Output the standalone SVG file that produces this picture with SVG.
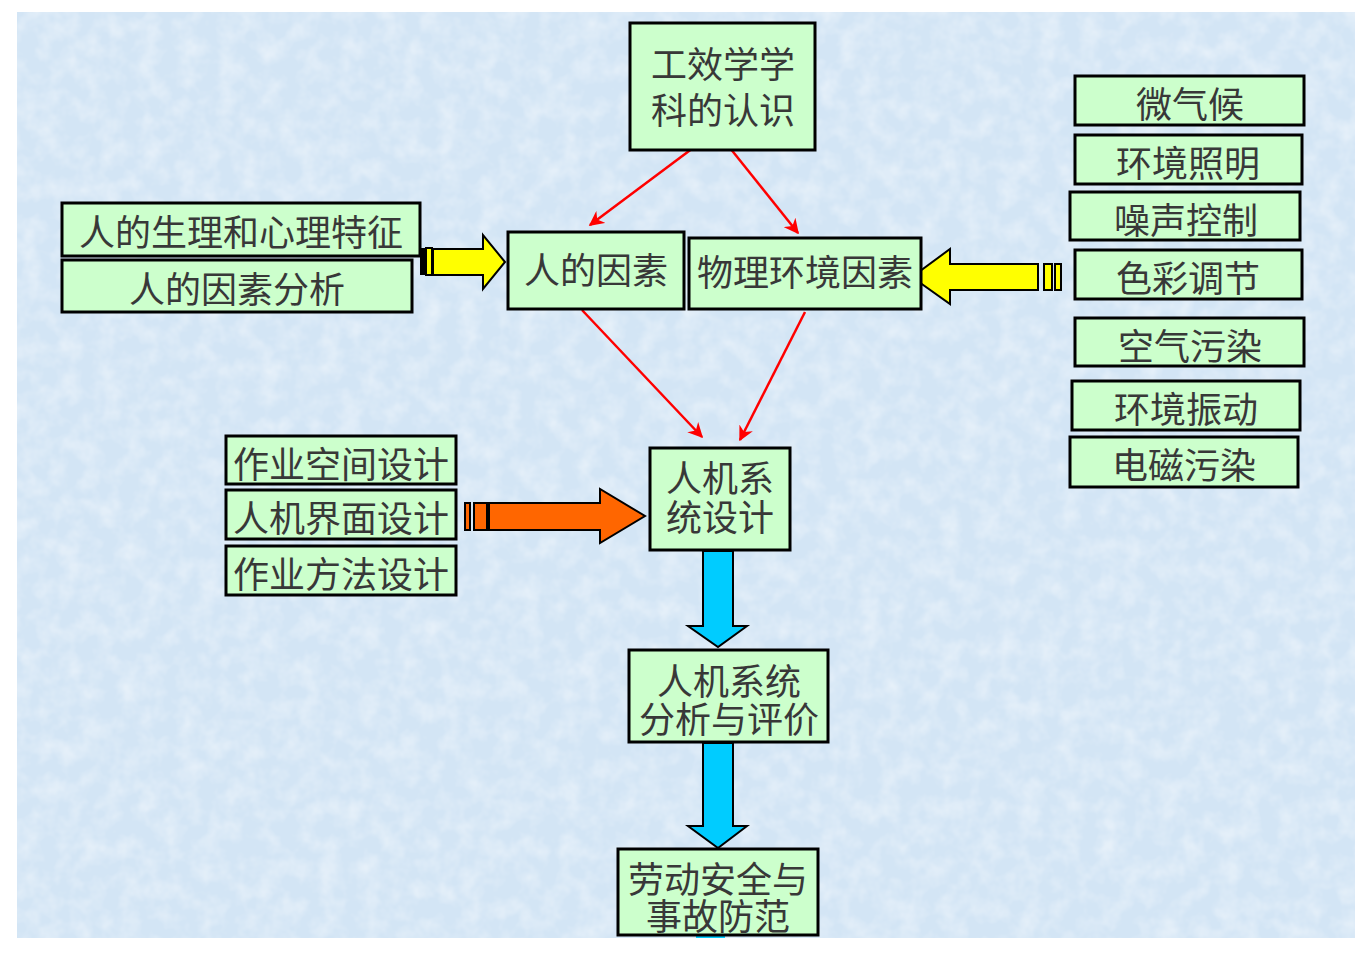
<svg xmlns="http://www.w3.org/2000/svg" width="1366" height="954" viewBox="0 0 1366 954">
<style>
.box{fill:#ccffcc;stroke:#000;stroke-width:3}
.t{font-family:"Noto Sans CJK SC","Noto Sans CJK JP",sans-serif;font-size:36px;fill:#383838;text-anchor:middle;dominant-baseline:central}
.red{stroke:#ff0000;stroke-width:2.5;fill:none;marker-end:url(#rh)}
.ya{fill:#ffff00;stroke:#000;stroke-width:2}
.oa{fill:#ff6600;stroke:#000;stroke-width:2}
.ca{fill:#00ccff;stroke:#000;stroke-width:2}
</style>
<defs>
<marker id="rh" viewBox="0 0 10 10" refX="9" refY="5" markerWidth="6" markerHeight="6" orient="auto" markerUnits="strokeWidth">
<path d="M0,0 L10,5 L0,10 L3,5 Z" fill="#ff0000"/>
</marker>
<filter id="tex" x="0" y="0" width="100%" height="100%">
<feTurbulence type="fractalNoise" baseFrequency="0.05" numOctaves="3" seed="4"/>
<feColorMatrix type="matrix" values="0 0 0 0 1  0 0 0 0 1  0 0 0 0 1  0 0 0 0.8 -0.3"/>
</filter>
</defs>
<rect width="1366" height="954" fill="#ffffff"/>
<rect x="17" y="12" width="1338" height="926" fill="#d3e5f5"/>
<rect x="17" y="12" width="1338" height="926" filter="url(#tex)"/>

<g id="connectors">
<line class="red" x1="693" y1="148" x2="590" y2="225"/>
<line class="red" x1="730" y1="148" x2="798" y2="233"/>
<line class="red" x1="582" y1="310" x2="702" y2="437"/>
<line class="red" x1="805" y1="312" x2="740" y2="440"/>
<rect x="420" y="248" width="5" height="27" fill="#000"/>
<rect x="426" y="248" width="6" height="27" class="ya"/>
<polygon class="ya" points="433,249 483,249 483,235 505,262 483,289 483,275 433,275"/>
<rect x="1044" y="264" width="8" height="26" class="ya"/>
<rect x="1055" y="264" width="6" height="26" class="ya"/>
<polygon class="ya" points="1038,264 950,264 950,249 912,277 950,304 950,290 1038,290"/>
<rect x="465" y="503" width="5" height="27" class="oa"/>
<rect x="474" y="503" width="13" height="27" class="oa"/>
<polygon class="oa" points="489,503 600,503 600,489 645,516 600,543 600,530 489,530"/>
<polygon class="ca" points="703,551 733,551 733,626 747,626 718,647 688,626 703,626"/>
<polygon class="ca" points="703,743 733,743 733,826 747,826 718,848 688,826 703,826"/>
<rect x="696" y="935" width="29" height="3" fill="#00ccff"/>
</g>

<g id="n-top"><rect class="box" x="630" y="23" width="185" height="127"/>
<text class="t"><tspan x="723" y="62">工效学学</tspan><tspan x="723" y="108">科的认识</tspan></text></g>

<g id="n-sl"><rect class="box" x="62" y="203" width="358" height="53"/><text class="t" x="241" y="230">人的生理和心理特征</text></g>
<g id="n-rf"><rect class="box" x="62" y="260" width="350" height="52"/><text class="t" x="237" y="287">人的因素分析</text></g>

<g id="n-hf"><rect class="box" x="508" y="232" width="176" height="77"/><text class="t" x="596" y="268">人的因素</text></g>
<g id="n-pe"><rect class="box" x="689" y="238" width="232" height="71"/><text class="t" x="805" y="270">物理环境因素</text></g>

<g id="n-r1"><rect class="box" x="1075" y="76" width="229" height="49"/><text class="t" x="1190" y="102">微气候</text></g>
<g id="n-r2"><rect class="box" x="1075" y="135" width="227" height="49"/><text class="t" x="1188" y="161">环境照明</text></g>
<g id="n-r3"><rect class="box" x="1070" y="192" width="230" height="48"/><text class="t" x="1186" y="218">噪声控制</text></g>
<g id="n-r4"><rect class="box" x="1075" y="250" width="227" height="49"/><text class="t" x="1188" y="276">色彩调节</text></g>
<g id="n-r5"><rect class="box" x="1075" y="318" width="229" height="48"/><text class="t" x="1190" y="344">空气污染</text></g>
<g id="n-r6"><rect class="box" x="1072" y="381" width="228" height="49"/><text class="t" x="1186" y="407">环境振动</text></g>
<g id="n-r7"><rect class="box" x="1070" y="437" width="228" height="50"/><text class="t" x="1184" y="463">电磁污染</text></g>

<g id="n-l1"><rect class="box" x="226" y="436" width="230" height="48"/><text class="t" x="341" y="462">作业空间设计</text></g>
<g id="n-l2"><rect class="box" x="226" y="490" width="230" height="49"/><text class="t" x="341" y="516">人机界面设计</text></g>
<g id="n-l3"><rect class="box" x="226" y="546" width="230" height="49"/><text class="t" x="341" y="572">作业方法设计</text></g>

<g id="n-sd"><rect class="box" x="650" y="448" width="140" height="102"/>
<text class="t"><tspan x="720" y="476">人机系</tspan><tspan x="720" y="515">统设计</tspan></text></g>
<g id="n-ae"><rect class="box" x="629" y="650" width="199" height="92"/>
<text class="t"><tspan x="729" y="679">人机系统</tspan><tspan x="729" y="717">分析与评价</tspan></text></g>
<g id="n-ls"><rect class="box" x="618" y="849" width="200" height="86"/>
<text class="t"><tspan x="718" y="877">劳动安全与</tspan><tspan x="718" y="914">事故防范</tspan></text></g>
</svg>
